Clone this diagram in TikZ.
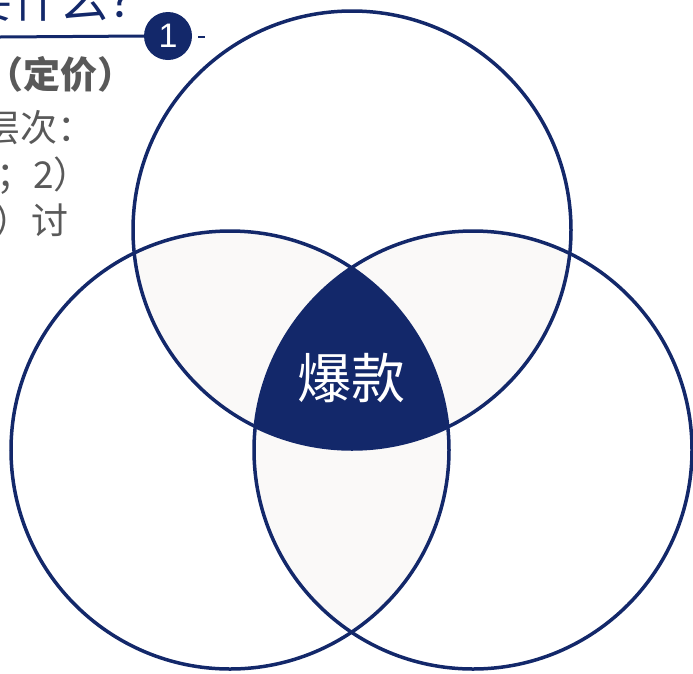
\documentclass[tikz,border=0pt]{standalone}
\usepackage{fontspec}
\newfontfamily\cjk{Noto Sans CJK SC}
\definecolor{navy}{HTML}{13286A}
\definecolor{lens}{HTML}{FAF9F8}
\definecolor{txtgray}{HTML}{595959}
\tikzset{
  ring/.style={draw=navy, line width=3.5pt},
  graytext/.style={inner sep=0pt, anchor=base west, text=txtgray, font=\cjk\fontsize{37}{40}\selectfont},
}
\begin{document}
\begin{tikzpicture}[x=1pt,y=-1pt]
\useasboundingbox (0,0) rectangle (693,673);
\clip (0,0) rectangle (693,673);
\coordinate (T) at (352,230);
\coordinate (L) at (230,450);
\coordinate (R) at (473,450);
% pairwise lenses
\begin{scope}
  \clip (T) circle (219pt);
  \fill[lens] (L) circle (219pt);
  \fill[lens] (R) circle (219pt);
\end{scope}
\begin{scope}
  \clip (L) circle (219pt);
  \fill[lens] (R) circle (219pt);
\end{scope}
% triple
\begin{scope}
  \clip (T) circle (219pt);
  \clip (L) circle (219pt);
  \fill[navy] (R) circle (219pt);
\end{scope}
\draw[ring] (T) circle (219pt);
\draw[ring] (L) circle (219pt);
\draw[ring] (R) circle (219pt);
\node[text=white, font=\cjk\fontsize{54}{58}\selectfont] (hot) at (351,378) {爆款};
% header
\node[inner sep=0pt, anchor=base west, text=navy, font=\cjk\fontsize{48}{52}\selectfont] (title) at (-36,17) {要什么？};
\node[circle, fill=navy, minimum size=48pt, inner sep=0pt, text=white, font=\fontspec{Liberation Sans}\fontsize{34}{36}\selectfont] (num) at (168,36) {1};
\coordinate (lineL) at (0,37);
\coordinate (dashA) at (198,37);
\coordinate (dashB) at (205,37);
\draw[navy, line width=3pt] (lineL) -- (num.west);
\draw[navy, line width=2pt] (dashA) -- (dashB);
\node[graytext, font=\cjk\bfseries\fontsize{37}{40}\selectfont] (l1) at (-14,88) {（定价）};
\node[graytext] (l2) at (-17,141) {层次：};
\node[graytext] (l3) at (-4,188) {；2）};
\node[graytext] (l4) at (-6,234) {）讨};
\end{tikzpicture}
\end{document}
